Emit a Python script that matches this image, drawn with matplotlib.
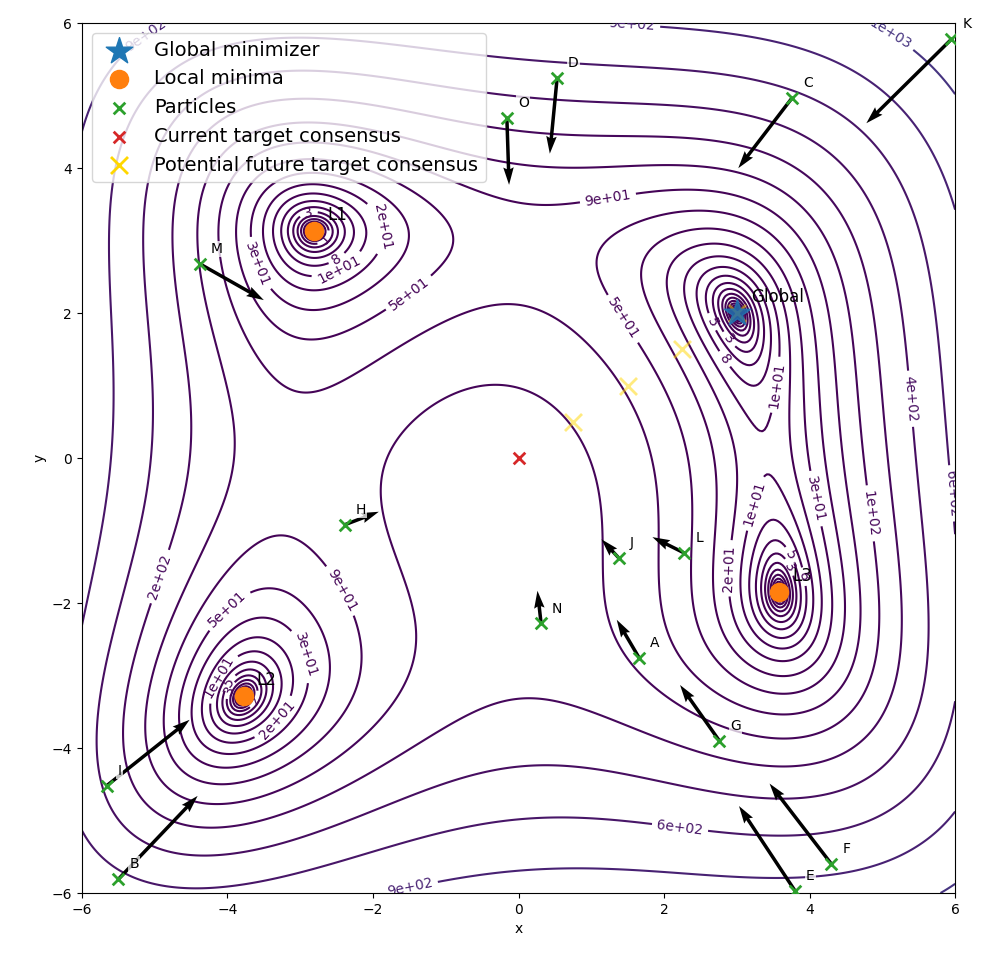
import numpy as np
import matplotlib
matplotlib.use('Agg')
import matplotlib.pyplot as plt

# Himmelblau 함수
def himmelblau(x, y):
    return (x**2 + y - 11)**2 + (x + y**2 - 7)**2

# 최소점
global_min = (3.0, 2.0)
local_names = ['L1', 'L2', 'L3']
local_x = [-2.805118, -3.779310, 3.584428]
local_y = [3.131312, -3.283186, -1.848126]

# 입자 위치와 이동 벡터
names = ['A', 'B', 'C', 'D', 'E', 'F', 'G', 'H', 'I', 'J', 'K', 'L', 'M', 'N', 'O']
px = [1.66, -5.50, 3.76, 0.53, 3.80, 4.30, 2.76, -2.39, -5.66, 1.38, 5.95, 2.28, -4.38, 0.31, -0.16]
py = [-2.76, -5.81, 4.97, 5.24, -5.97, -5.60, -3.90, -0.92, -4.52, -1.38, 5.78, -1.31, 2.68, -2.28, 4.69]
du = [-0.31, 1.09, -0.74, -0.10, -0.77, -0.85, -0.54, 0.47, 1.14, -0.24, -1.17, -0.44, 0.88, -0.05, 0.03]
dv = [0.53, 1.15, -0.97, -1.04, 1.17, 1.11, 0.77, 0.18, 0.91, 0.26, -1.16, 0.22, -0.50, 0.45, -0.92]

# 합의점
current_target = (0.0, 0.0)
future_x = [0.75, 1.5, 2.25, 3.0]
future_y = [0.5, 1.0, 1.5, 2.0]

# 등고선 라벨 위치
label_pos = [(1.56, 5.99), (5.11, 5.86), (1.22, 3.64), (1.40, 1.90),
             (3.55, 1.01), (2.85, 1.38), (2.88, 1.63), (2.66, 1.88),
             (3.23, -0.62), (2.90, -1.52), (4.08, -0.56), (4.85, -0.76),
             (3.73, -1.34), (3.71, -1.51), (3.95, -1.63),
             (5.40, 0.82), (5.91, -0.49),
             (-4.01, -2.07), (-2.93, -2.72), (-3.35, -3.59), (-4.08, -3.04),
             (-3.97, -3.10), (-3.99, -3.19), (-3.60, -3.34), (-2.43, -1.82),
             (-1.86, 3.19), (-2.48, 2.62), (-2.52, 2.79), (-2.89, 3.40),
             (-2.66, 3.03), (-3.55, 2.69), (-1.54, 2.32),
             (-5.0, -1.61), (-1.49, -5.92), (2.22, -5.09), (-5.15, 5.86)]

xs = np.linspace(-6, 6, 400)
ys = np.linspace(-6, 6, 400)
X, Y = np.meshgrid(xs, ys)
Z = himmelblau(X, Y)
levels = np.logspace(-2, 4, 30)

fig = plt.figure(figsize=(9.87, 9.67), dpi=100)
ax = fig.add_axes([0.083, 0.0765, 0.8847, 0.8995])
ax.set_xlim(-6, 6)
ax.set_ylim(-6, 6)

cs = ax.contour(X, Y, Z, levels=levels, cmap='viridis')
ax.clabel(cs, inline=True, fontsize=10, fmt='%.1g', manual=label_pos)

ax.quiver(px, py, du, dv, angles='xy', scale_units='xy', scale=1,
          color='black', width=0.004, zorder=3)

ax.scatter(future_x, future_y, marker='x', s=150, color='gold', alpha=0.5,
           linewidths=2, zorder=4, label='Potential future target consensus')
ax.scatter([global_min[0]], [global_min[1]], marker='*', s=400, color='tab:blue',
           alpha=0.8, zorder=5, label='Global minimizer')
ax.text(global_min[0] + 0.2, global_min[1] + 0.15, 'Global', fontsize=12, zorder=6)
ax.scatter(local_x, local_y, marker='o', s=170, color='tab:orange', zorder=5,
           label='Local minima')
for n, lx, ly in zip(local_names, local_x, local_y):
    ax.text(lx + 0.18, ly + 0.15, n, fontsize=12)
ax.scatter(px, py, marker='x', s=70, color='tab:green', linewidths=2, zorder=5,
           label='Particles')
for n, x, y in zip(names, px, py):
    ax.text(x + 0.15, y + 0.15, n, fontsize=10, zorder=4,
            bbox=dict(facecolor='white', alpha=0.75, edgecolor='none', pad=1))
ax.scatter([current_target[0]], [current_target[1]], marker='x', s=70, color='tab:red',
           linewidths=2, zorder=5, label='Current target consensus')

ax.set_xlim(-6, 6)
ax.set_ylim(-6, 6)
ax.set_xlabel('x')
ax.set_ylabel('y')

handles, labels = ax.get_legend_handles_labels()
order = ['Global minimizer', 'Local minima', 'Particles', 'Current target consensus',
         'Potential future target consensus']
hs = [handles[labels.index(o)] for o in order]
leg = ax.legend(hs, order, loc='upper left', fontsize=14)
for lh in leg.legend_handles:
    lh.set_alpha(1)

fig.savefig('out.png', dpi=100)
